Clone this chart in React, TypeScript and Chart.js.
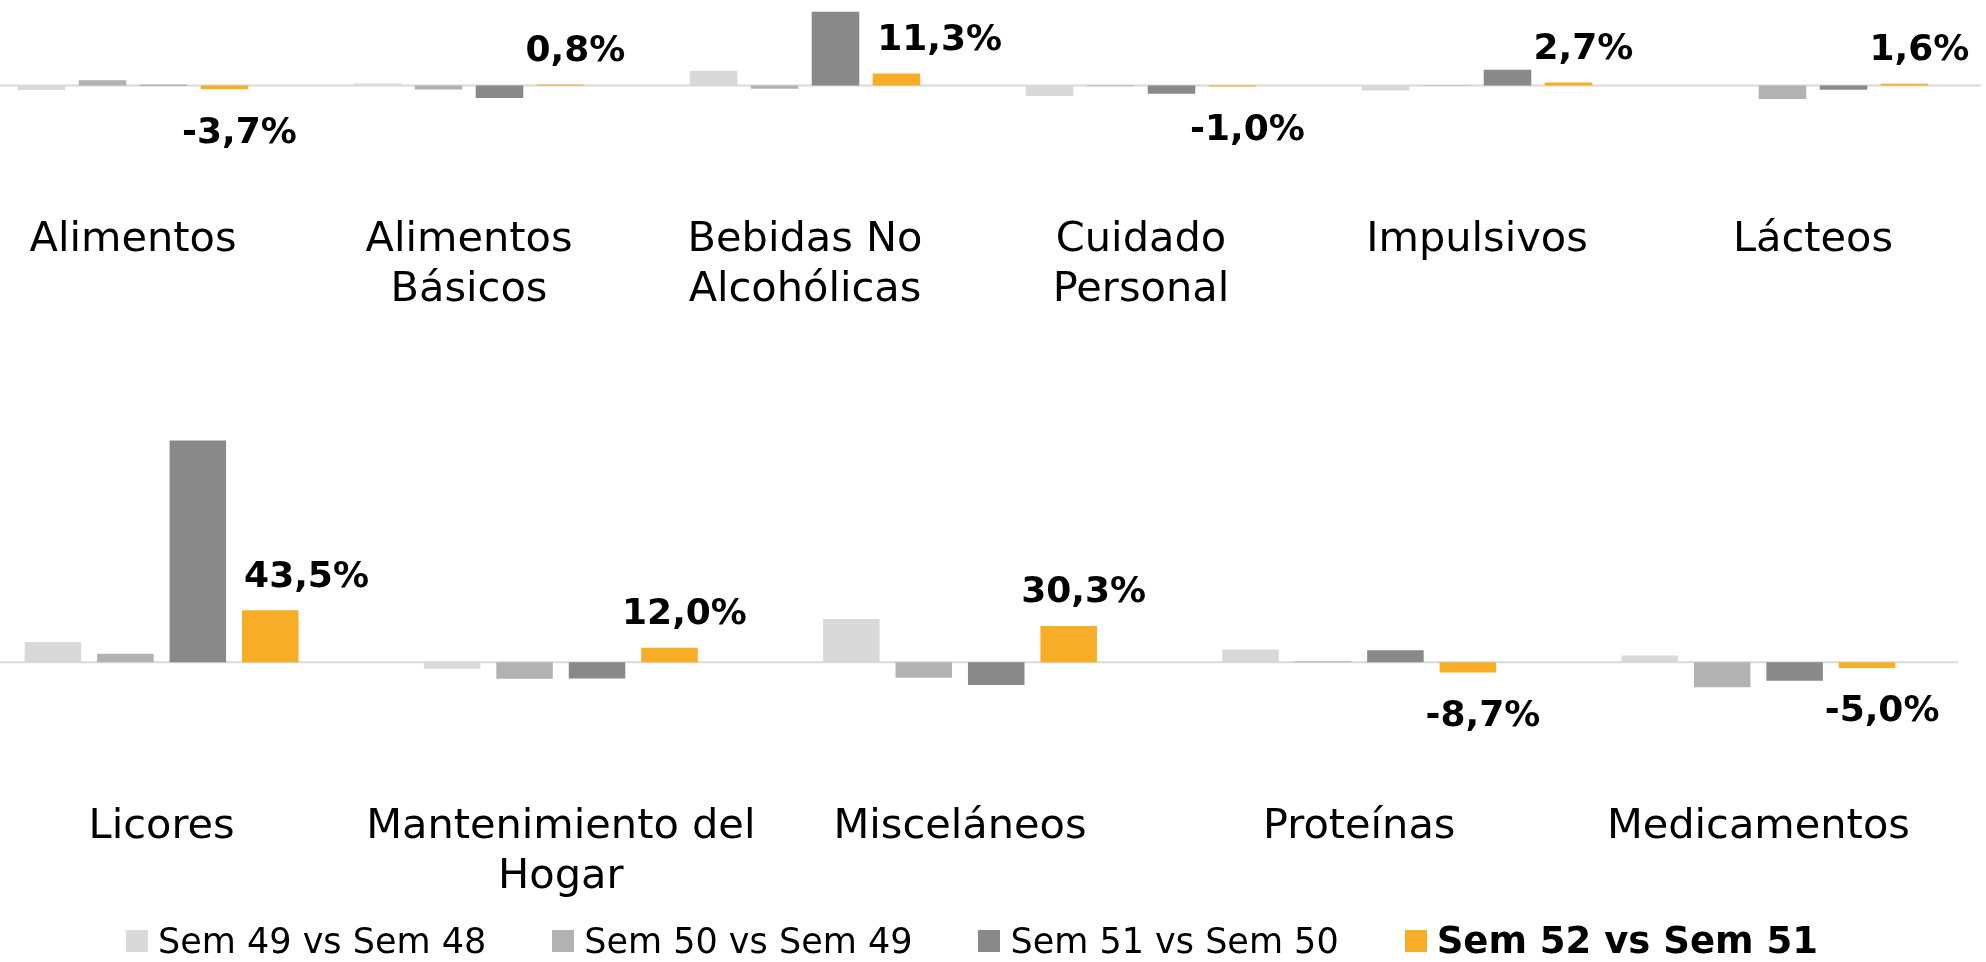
import React, { useEffect, useRef } from "react";
import { Chart, registerables } from "chart.js";

Chart.register(...registerables);

const FONT = "'DejaVu Sans', sans-serif";

const seriesNames = ["Sem 49 vs Sem 48", "Sem 50 vs Sem 49", "Sem 51 vs Sem 50", "Sem 52 vs Sem 51"];
const seriesColors = ["#D9D9D9", "#B2B2B2", "#898989", "#F8AD26"];

const topCategories = [["Alimentos"], ["Alimentos", "Básicos"], ["Bebidas No", "Alcohólicas"], ["Cuidado", "Personal"], ["Impulsivos"], ["Lácteos"]];
const topSem49 = [-4.4, 1.8, 14.0, -10.0, -4.7, 0.2];
const topSem50 = [5.0, -3.8, -3.1, -0.8, -0.6, -12.9];
const topSem51 = [0.6, -12.0, 70.0, -7.8, 14.8, -4.1];
const topSem52 = [-3.7, 0.8, 11.3, -1.0, 2.7, 1.6];

const bottomCategories = [["Licores"], ["Mantenimiento del", "Hogar"], ["Misceláneos"], ["Proteínas"], ["Medicamentos"]];
const bottomSem49 = [17.0, -5.6, 36.2, 10.6, 5.6];
const bottomSem50 = [7.0, -14.0, -13.1, 0.8, -21.0];
const bottomSem51 = [186.0, -13.8, -19.2, 10.0, -15.6];
const bottomSem52 = [43.5, 12.0, 30.3, -8.7, -5.0];

const fmt = (v: number) => v.toFixed(1).replace(".", ",") + "%";

const zeroLine = {
  id: "zeroLine",
  beforeDatasetsDraw(chart: any) {
    const { ctx, chartArea, scales } = chart;
    const y = scales.y.getPixelForValue(0);
    ctx.save();
    ctx.strokeStyle = "#D9D9D9";
    ctx.lineWidth = 2;
    ctx.beginPath();
    ctx.moveTo(chartArea.left, y);
    ctx.lineTo(chartArea.right, y);
    ctx.stroke();
    ctx.restore();
  },
};

const valueLabels = {
  id: "valueLabels",
  afterDatasetsDraw(chart: any) {
    const ctx = chart.ctx;
    const meta = chart.getDatasetMeta(3);
    const nbMeta = chart.getDatasetMeta(2);
    const data = chart.data.datasets[3].data as number[];
    ctx.save();
    ctx.font = `bold 36px ${FONT}`;
    ctx.fillStyle = "#000000";
    ctx.textAlign = "center";
    ctx.textBaseline = "middle";
    meta.data.forEach((bar: any, i: number) => {
      const v = data[i];
      const text = fmt(v);
      const w = ctx.measureText(text).width;
      const p = bar.getProps(["x", "y", "width"], true);
      let cx = p.x + 15;
      const cy = v >= 0 ? p.y - 33 : p.y + 44;
      const nb = nbMeta.data[i].getProps(["x", "y", "width"], true);
      if (v >= 0 && nb.y < cy + 18 && nb.x + nb.width / 2 + 18 > cx - w / 2) {
        cx = nb.x + nb.width / 2 + 18 + w / 2;
      }
      ctx.fillText(text, cx, cy);
    });
    ctx.restore();
  },
};

function makeConfig(categories: string[][], series: number[][], yMin: number, yMax: number): any {
  return {
    type: "bar",
    data: {
      labels: categories,
      datasets: series.map((d, i) => ({
        label: seriesNames[i],
        data: d,
        backgroundColor: seriesColors[i],
        borderWidth: 0,
        categoryPercentage: 0.726,
        barPercentage: 0.78,
      })),
    },
    options: {
      responsive: false,
      maintainAspectRatio: false,
      animation: false,
      layout: { padding: 0 },
      plugins: {
        legend: { display: false },
        tooltip: { enabled: false },
        title: { display: false },
      },
      scales: {
        x: {
          grid: { display: false, drawTicks: false },
          border: { display: false },
          ticks: {
            color: "#000000",
            font: { size: 41.5, family: FONT, lineHeight: 1.22 },
            padding: 20,
            maxRotation: 0,
            minRotation: 0,
            autoSkip: false,
          },
        },
        y: { display: false, min: yMin, max: yMax },
      },
    },
    plugins: [zeroLine, valueLabels],
  };
}

function BarPanel(props: { categories: string[][]; series: number[][]; yMin: number; yMax: number; left: number; top: number; width: number; height: number }) {
  const ref = useRef<HTMLCanvasElement>(null);
  useEffect(() => {
    if (!ref.current) return;
    const chart = new Chart(ref.current, makeConfig(props.categories, props.series, props.yMin, props.yMax));
    return () => chart.destroy();
  }, []);
  return (
    <canvas
      ref={ref}
      width={props.width}
      height={props.height}
      style={{ position: "absolute", left: props.left, top: props.top, width: props.width, height: props.height }}
    />
  );
}

export default function App() {
  // top panel: chart area 0..196px, zero at 86px, 1.06 px per %
  const topMax = 86 / 1.06;
  const topMin = -(196 - 86) / 1.06;
  // bottom panel: chart area 0..383px, zero at 263px, 1.195 px per %
  const botMax = 263 / 1.195;
  const botMin = -(383 - 263) / 1.195;
  return (
    <div style={{ position: "fixed", left: 0, top: 0, width: 1986, height: 962, overflow: "hidden", background: "#FFFFFF" }}>
      <BarPanel categories={topCategories} series={[topSem49, topSem50, topSem51, topSem52]} yMin={topMin} yMax={topMax} left={-35} top={0} width={2016} height={336} />
      <BarPanel categories={bottomCategories} series={[bottomSem49, bottomSem50, bottomSem51, bottomSem52]} yMin={botMin} yMax={botMax} left={-38} top={400} width={1996} height={523} />
      <div style={{ position: "absolute", left: 126, top: 919, height: 44, display: "flex", alignItems: "center", gap: 66, fontFamily: FONT, color: "#000" }}>
        {seriesNames.map((name, i) => (
          <div key={name} style={{ display: "flex", alignItems: "center" }}>
            <div style={{ width: 22, height: 22, background: seriesColors[i], marginRight: 10 }} />
            <span style={{ fontSize: i === 3 ? 37 : 35, fontWeight: i === 3 ? "bold" : "normal", lineHeight: "44px", whiteSpace: "nowrap" }}>{name}</span>
          </div>
        ))}
      </div>
    </div>
  );
}
